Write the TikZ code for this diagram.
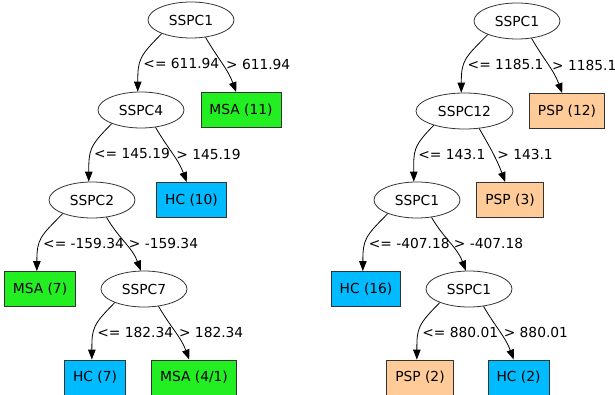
\documentclass[tikz,border=0pt]{standalone}
\usepackage{fontspec}
\setmainfont{DejaVu Sans}
\usetikzlibrary{shapes.geometric,arrows.meta}
\definecolor{msagreen}{HTML}{22EE22}
\definecolor{hcblue}{HTML}{00BBFF}
\definecolor{pspbeige}{HTML}{FFCC99}

\begin{document}
\begin{tikzpicture}[x=1pt,y=-1pt,font=\fontsize{13.8}{16}\selectfont]
              \tikzstyle{split}=[ellipse,draw=black!80,line width=0.8pt,minimum width=86pt,minimum height=36pt,inner sep=0pt]
              \tikzstyle{leaf}=[rectangle,draw=black!80,line width=0.8pt,minimum height=35pt,inner xsep=8.5pt]
              \tikzstyle{msa}=[leaf,fill=msagreen]
              \tikzstyle{hc}=[leaf,fill=hcblue]
              \tikzstyle{psp}=[leaf,fill=pspbeige]
              \tikzstyle{edge}=[draw=black,line width=0.8pt,-{Triangle[length=10pt,width=7.5pt]}]
              \tikzstyle{le}=[out=-135,in=90,looseness=1.3]
              \tikzstyle{ri}=[out=-60,in=110]
              \tikzstyle{lbl}=[right]
              \useasboundingbox (0,0) rectangle (615,395);
              \node [split] (a1) at (191,20) {SSPC1};
              \node [split] (a2) at (141,110) {SSPC4};
              \node [msa] (a3) at (241,110) {MSA (11)};
              \node [split] (a4) at (92,200) {SSPC2};
              \node [hc] (a5) at (191.5,200) {HC (10)};
              \node [msa] (a6) at (40,289) {MSA (7)};
              \node [split] (a7) at (144,289) {SSPC7};
              \node [hc] (a8) at (95,377.5) {HC (7)};
              \node [msa] (a9) at (194,377.5) {MSA (4/1)};
              \draw [edge] (a1.-155) to[le] node[lbl,pos=0.6] {<= 611.94} (a2.100);
              \draw [edge] (a1.-50) to[ri] node[lbl] {> 611.94} (a3.105);
              \draw [edge] (a2.-155) to[le] node[lbl,pos=0.6] {<= 145.19} (a4.100);
              \draw [edge] (a2.-50) to[ri] node[lbl] {> 145.19} (a5.105);
              \draw [edge] (a4.-155) to[le] node[lbl,pos=0.6] {<= -159.34} (a6.100);
              \draw [edge] (a4.-50) to[ri] node[lbl] {> -159.34} (a7.100);
              \draw [edge] (a7.-155) to[le] node[lbl,pos=0.6] {<= 182.34} (a8.100);
              \draw [edge] (a7.-50) to[ri] node[lbl] {> 182.34} (a9.105);
              \node [split] (b1) at (517,21) {SSPC1};
              \node [split,minimum width=97pt] (b2) at (464.5,111) {SSPC12};
              \node [psp] (b3) at (567,111) {PSP (12)};
              \node [split] (b4) at (417,200) {SSPC1};
              \node [psp] (b5) at (510,200) {PSP (3)};
              \node [hc] (b6) at (366,289) {HC (16)};
              \node [split] (b7) at (469,289) {SSPC1};
              \node [psp] (b8) at (420,377.5) {PSP (2)};
              \node [hc] (b9) at (518.5,377.5) {HC (2)};
              \draw [edge] (b1.-155) to[le] node[lbl,pos=0.6] {<= 1185.1} (b2.100);
              \draw [edge] (b1.-50) to[ri] node[lbl] {> 1185.1} (b3.105);
              \draw [edge] (b2.-155) to[le] node[lbl,pos=0.6] {<= 143.1} (b4.100);
              \draw [edge] (b2.-50) to[ri] node[lbl] {> 143.1} (b5.105);
              \draw [edge] (b4.-155) to[le] node[lbl,pos=0.6] {<= -407.18} (b6.100);
              \draw [edge] (b4.-50) to[ri] node[lbl] {> -407.18} (b7.100);
              \draw [edge] (b7.-155) to[le] node[lbl,pos=0.6] {<= 880.01} (b8.100);
              \draw [edge] (b7.-50) to[ri] node[lbl] {> 880.01} (b9.105);
            \end{tikzpicture}
\end{document}
